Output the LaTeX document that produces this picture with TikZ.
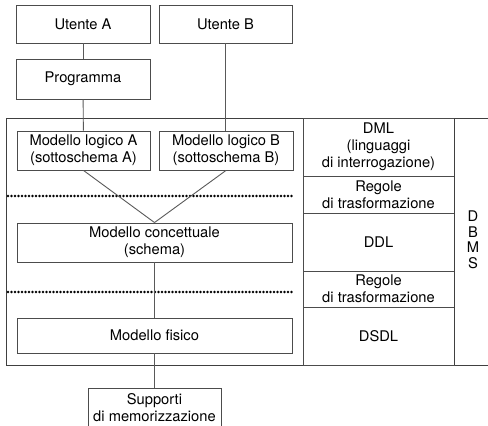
\documentclass[tikz,border=0pt]{standalone}
\usepackage{fontspec}
\setmainfont{TeX Gyre Heros}
\begin{document}
\begin{tikzpicture}[x=1pt,y=-1pt,
  txt/.style={align=center, inner sep=0pt, text=black, font=\fontsize{14.7}{17}\selectfont},
  box/.style={txt, draw=black!70, line width=0.9pt},
  cell/.style={txt, draw=black!70, line width=0.9pt, minimum width=151pt},
  conn/.style={draw=black!65, line width=0.9pt},
  frame/.style={draw=black!75, line width=1pt},
  dotline/.style={draw=black, line width=2.9pt, line cap=round, dash pattern=on 0pt off 3.5pt}]
\useasboundingbox (0,0) rectangle (488,426);
\clip (0,0) rectangle (488,426);

% outer frame
\coordinate (ftr) at (489,118);
\coordinate (ftl) at (6,118);
\coordinate (fbl) at (6,365);
\coordinate (fbr) at (489,365);
\draw[frame] (ftr) -- (ftl) -- (fbl) -- (fbr);

% boxes
\node[box, minimum width=134pt, minimum height=38pt] (ua) at (83,24) {Utente A};
\node[box, minimum width=133pt, minimum height=38pt] (ub) at (225.5,24) {Utente B};
\node[box, minimum width=134pt, minimum height=40pt] (prog) at (83,79) {Programma};
\node[box, minimum width=133pt, minimum height=39pt] (mla) at (83.5,150.5) {Modello logico A\\(sottoschema A)};
\node[box, minimum width=134pt, minimum height=39pt] (mlb) at (226,150.5) {Modello logico B\\(sottoschema B)};
\node[box, minimum width=275pt, minimum height=39pt] (mc) at (154.5,242.5) {Modello concettuale\\(schema)};
\node[box, minimum width=275pt, minimum height=35pt] (mf) at (154.5,335.5) {Modello fisico};
\node[box, minimum width=133pt, minimum height=40pt] (sup) at (154.5,408) {Supporti\\di memorizzazione};

% right column cells
\node[cell, minimum height=58pt] (dml) at (378.5,147) {DML\\(linguaggi\\di interrogazione)};
\node[cell, minimum height=37pt] (reg1) at (378.5,194.5) {Regole\\di trasformazione};
\node[cell, minimum height=58pt] (ddl) at (378.5,242) {DDL};
\node[cell, minimum height=36pt] (reg2) at (378.5,289) {Regole\\di trasformazione};
\node[cell, minimum height=58pt] (dsdl) at (378.5,336) {DSDL};
\node[txt, font=\fontsize{14.7}{15.5}\selectfont] (dbms) at (473,240) {D\\B\\M\\S};
\coordinate (vt) at (454,118);
\coordinate (vb) at (454,365);
\draw[frame] (vt) -- (vb);

% dotted separators
\coordinate (d1l) at (8,196);
\coordinate (d1r) at (292,196);
\coordinate (d2l) at (8,292);
\coordinate (d2r) at (292,292);
\draw[dotline] (d1l) -- (d1r);
\draw[dotline] (d2l) -- (d2r);

% connectors
\draw[conn] (ua) -- (prog);
\draw[conn] (prog) -- (mla);
\draw[conn] (ub.south) -- (ub.south |- mlb.north);
\draw[conn] (mla.south) -- (mc.north);
\draw[conn] (mlb.south) -- (mc.north);
\draw[conn] (mc) -- (mf);
\draw[conn] (mf) -- (sup);
\end{tikzpicture}
\end{document}
